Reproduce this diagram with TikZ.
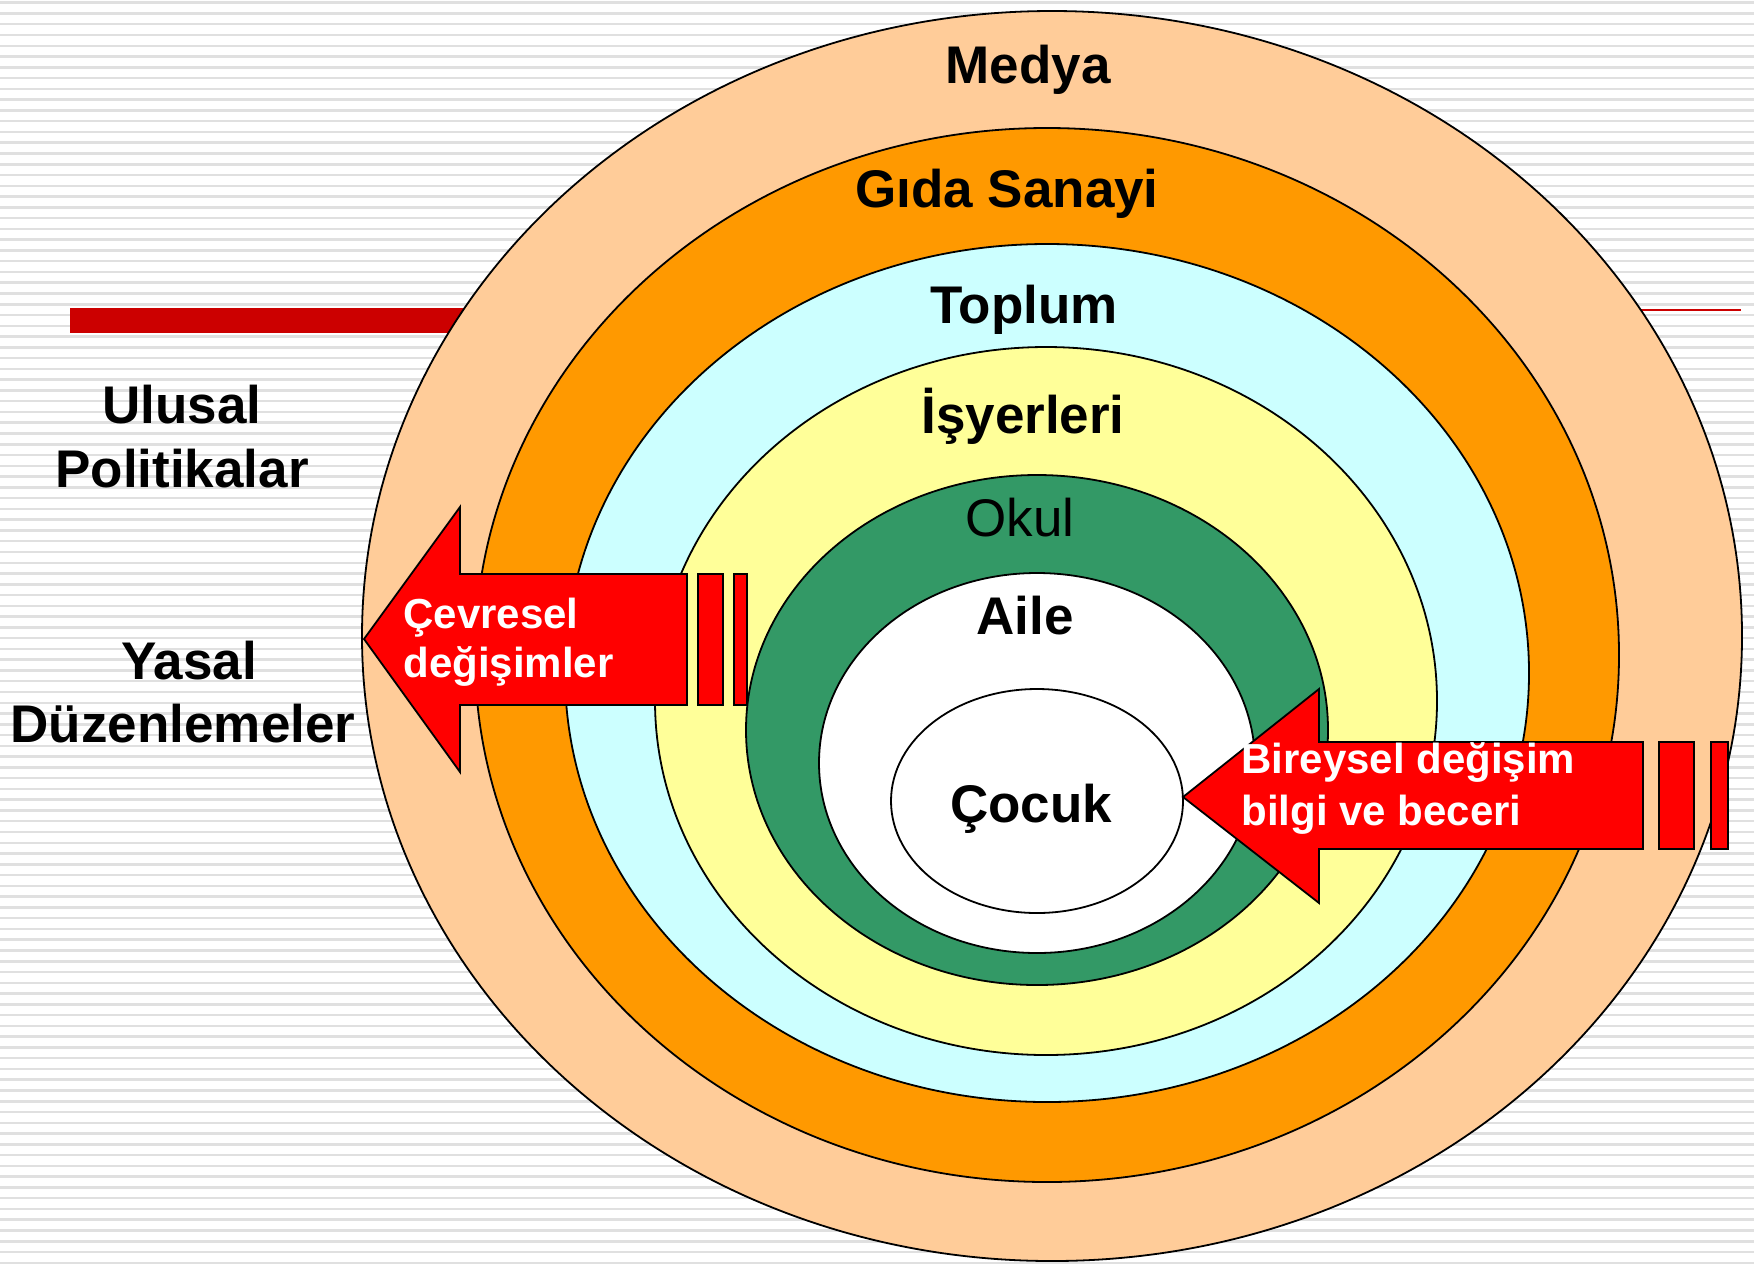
\documentclass[tikz,border=0pt]{standalone}
\usepackage{fontspec}
\setmainfont{Liberation Sans}
\definecolor{medyafill}{HTML}{FFCC99}
\definecolor{gidafill}{HTML}{FF9900}
\definecolor{toplumfill}{HTML}{CCFFFF}
\definecolor{isyerifill}{HTML}{FFFF99}
\definecolor{okulfill}{HTML}{339966}
\definecolor{barred}{HTML}{CC0000}
\definecolor{arrowred}{HTML}{FF0000}

\begin{document}
\begin{tikzpicture}[x=0.5pt,y=-0.5pt,
  bgstripe/.style={black!12, line width=1.25pt},
  ring/.style={draw, line width=0.9pt},
  ringlabel/.style={anchor=base, inner sep=0, font=\fontsize{26.5}{32}\selectfont\bfseries},
  arrowshape/.style={draw, fill=arrowred, line width=0.9pt},
  arrowtext/.style={anchor=base west, inner sep=0, white, font=\fontsize{21}{25}\selectfont\bfseries}]
\useasboundingbox (0,0) rectangle (1754,1265);
\fill[white] (0,0) rectangle (1754,1265);
\foreach \i in {0,...,117}
  \draw[bgstripe] (0,2.7+10.77*\i) -- (1754,2.7+10.77*\i);
\fill[barred] (70,308) rectangle (480,333);
\draw[barred, line width=1pt] (1500,310) -- (1741,310);

\draw[ring, fill=medyafill] (1052,636) ellipse [x radius=690, y radius=625];
\draw[ring, fill=gidafill] (1047,655) ellipse [x radius=572, y radius=527];
\draw[ring, fill=toplumfill] (1047,673) ellipse [x radius=482, y radius=429];
\draw[ring, fill=isyerifill] (1046,701) ellipse [x radius=391, y radius=354];
\draw[ring, fill=okulfill] (1037,730) ellipse [x radius=291, y radius=255];
\draw[ring, fill=white] (1037,763) ellipse [x radius=218, y radius=190];
\draw[ring, fill=white] (1037,801) ellipse [x radius=146, y radius=112];

\draw[arrowshape] (364,639) -- (460,507) -- (460,574) -- (687,574) -- (687,705) -- (460,705) -- (460,772) -- cycle;
\draw[arrowshape] (698,574) rectangle (723,705);
\draw[arrowshape] (734,574) rectangle (747,705);
\draw[arrowshape] (1183,797) -- (1319,689) -- (1319,742) -- (1643,742) -- (1643,849) -- (1319,849) -- (1319,903) -- cycle;
\draw[arrowshape] (1659,742) rectangle (1694,849);
\draw[arrowshape] (1711,742) rectangle (1728,849);

\node (medya) [ringlabel] at (1028,83) {Medya};
\node (gida) [ringlabel] at (1007,207) {Gıda Sanayi};
\node (toplum) [ringlabel] at (1024,323) {Toplum};
\node (isyerleri) [ringlabel] at (1023,433) {İşyerleri};
\node (okul) [ringlabel, font=\fontsize{26.5}{32}\selectfont] at (1020,536) {Okul};
\node (aile) [ringlabel] at (1025,634) {Aile};
\node (cocuk) [ringlabel] at (1031,822) {Çocuk};

\node (ulusal) [ringlabel] at (182,423) {Ulusal};
\node (politikalar) [ringlabel] at (182,487) {Politikalar};
\node (yasal) [ringlabel] at (189,679) {Yasal};
\node (duzenlemeler) [ringlabel] at (183,742) {Düzenlemeler};

\node (cevresel) [arrowtext] at (403,628) {Çevresel};
\node (degisimler) [arrowtext] at (403,677) {değişimler};
\node (bireysel) [arrowtext] at (1241,773) {Bireysel değişim};
\node (bilgi) [arrowtext] at (1241,825) {bilgi ve beceri};
\end{tikzpicture}
\end{document}
